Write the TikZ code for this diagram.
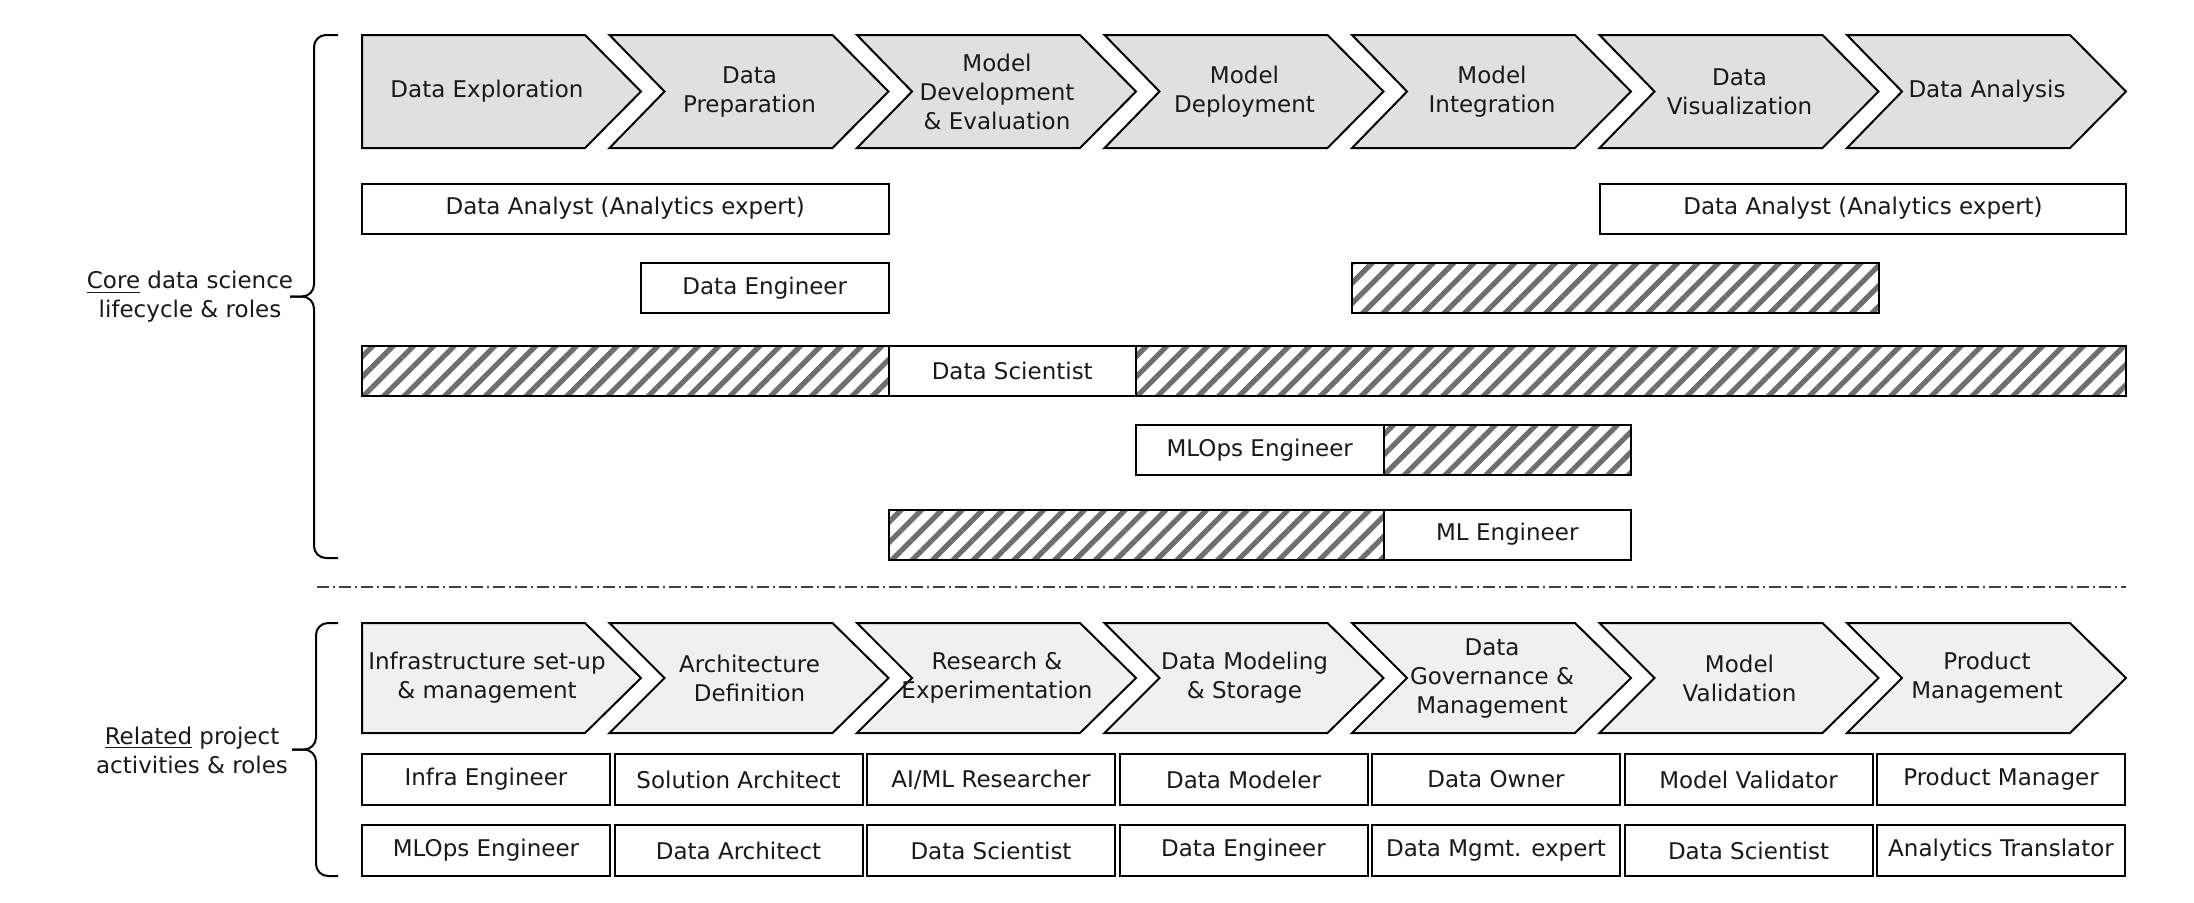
\documentclass[tikz,border=0pt]{standalone}
\usepackage{fontspec}
\setmainfont{DejaVu Sans}
\usetikzlibrary{patterns.meta}

\definecolor{stagegray}{RGB}{224,224,224}
\definecolor{taskgray}{RGB}{240,240,240}
\definecolor{hatchgray}{RGB}{110,110,110}

\begin{document}
\begin{tikzpicture}[x=0.5pt, y=-0.5pt,
    lbl/.style={align=center, font=\fontsize{11.5}{14.5}\selectfont, text=black!90},
    rolebox/.style={draw, line width=1pt, fill=white, inner sep=0pt, minimum height=25pt, lbl},
    hatchbox/.style={draw, line width=1pt, inner sep=0pt, minimum height=25pt,
        pattern={Lines[angle=45, distance=7.2pt, line width=2.6pt]}, pattern color=hatchgray},
    chev/.style={draw, line width=1pt, line join=miter},
    curly/.style={draw, line width=1pt, rounded corners=6pt}]
    \useasboundingbox (0,0) rectangle (2194,902);
    \pgfmathsetmacro{\pitch}{247.5}  % chevron spacing, px
    % core lifecycle stages
    \foreach \i/\txt in {1/{Data Exploration}, 2/{Data\\Preparation},
        3/{Model\\Development\\\& Evaluation}, 4/{Model\\Deployment},
        5/{Model\\Integration}, 6/{Data\\Visualization}, 7/{Data Analysis}} {
        \pgfmathsetmacro{\lx}{362+(\i-1)*\pitch}
        \pgfmathsetmacro{\nd}{\i==1 ? 0 : 55}  % notch depth
        \pgfmathsetmacro{\cx}{\lx+(\i==1 ? 125 : 140)}
        \draw[chev, fill=stagegray] (\lx,35) -- ++(223,0) -- ++(56,56.5) -- ++(-56,56.5)
            -- (\lx,148) -- ++(\nd,-56.5) -- cycle;
        \node[lbl] (core\i) at (\cx,91.5) {\txt};
    }
    % related activities
    \foreach \i/\txt in {1/{Infrastructure set-up\\\& management}, 2/{Architecture\\Definition},
        3/{Research \&\\Experimentation}, 4/{Data Modeling\\\& Storage},
        5/{Data\\Governance \&\\Management}, 6/{Model\\Validation}, 7/{Product\\Management}} {
        \pgfmathsetmacro{\lx}{362+(\i-1)*\pitch}
        \pgfmathsetmacro{\nd}{\i==1 ? 0 : 55}
        \pgfmathsetmacro{\cx}{\lx+(\i==1 ? 125 : 140)}
        \draw[chev, fill=taskgray] (\lx,623) -- ++(223,0) -- ++(56,55) -- ++(-56,55)
            -- (\lx,733) -- ++(\nd,-55) -- cycle;
        \node[lbl] (rel\i) at (\cx,678) {\txt};
    }
    % roles (hatched = optional involvement)
    \foreach \nm/\xa/\xb/\yy in {hde/1352/1878.5/288, hds1/362/888.5/371, hds2/1136/2126/371,
        hmlops/1383.5/1631/450, hmle/888.5/1383.5/534.5} {
        \node[hatchbox, minimum width={(\xb-\xa)*0.5pt}] (\nm) at ({(\xa+\xb)/2},\yy) {};
    }
    \foreach \nm/\xa/\xb/\yy/\txt in {da1/362/888.5/208.5/{Data Analyst (Analytics expert)},
        da2/1600/2126/208.5/{Data Analyst (Analytics expert)}, de/641/888.5/288/{Data Engineer},
        ds/888.5/1136/371/{Data Scientist}, mlops/1136/1383.5/450/{MLOps Engineer},
        mle/1383.5/1631/534.5/{ML Engineer}} {
        \node[rolebox, minimum width={(\xb-\xa)*0.5pt}] (\nm) at ({(\xa+\xb)/2},\yy) {\txt};
    }
    \foreach \i/\txt in {1/{Infra Engineer}, 2/{Solution Architect}, 3/{AI/ML Researcher},
        4/{Data Modeler}, 5/{Data Owner}, 6/{Model Validator}, 7/{Product Manager}} {
        \node[rolebox, minimum width=124pt, minimum height=25.5pt] (lead\i) at ({486+(\i-1)*252.5},779.5) {\txt};
    }
    \foreach \i/\txt in {1/{MLOps Engineer}, 2/{Data Architect}, 3/{Data Scientist},
        4/{Data Engineer}, 5/{Data Mgmt. expert}, 6/{Data Scientist}, 7/{Analytics Translator}} {
        \node[rolebox, minimum width=124pt, minimum height=25.5pt] (supp\i) at ({486+(\i-1)*252.5},850.5) {\txt};
    }
    % braces and side labels
    \draw[curly] (338,35) -- (314,35) -- (314,296.5) -- (290,296.5);
    \draw[curly] (338,558) -- (314,558) -- (314,296.5) -- (290,296.5);
    \draw[curly] (338,623) -- (316,623) -- (316,749.5) -- (292,749.5);
    \draw[curly] (338,876) -- (316,876) -- (316,749.5) -- (292,749.5);
    \node[lbl] (corelbl) at (190,297) {\underline{Core} data science\\lifecycle \& roles};
    \node[lbl] (rellbl) at (192,750) {\underline{Related} project\\activities \& roles};
    % separator
    \draw[black!75, line width=0.7pt, dash pattern=on 6pt off 2pt on 1pt off 2pt]
        (317,587) -- (2126,587);
\end{tikzpicture}
\end{document}
